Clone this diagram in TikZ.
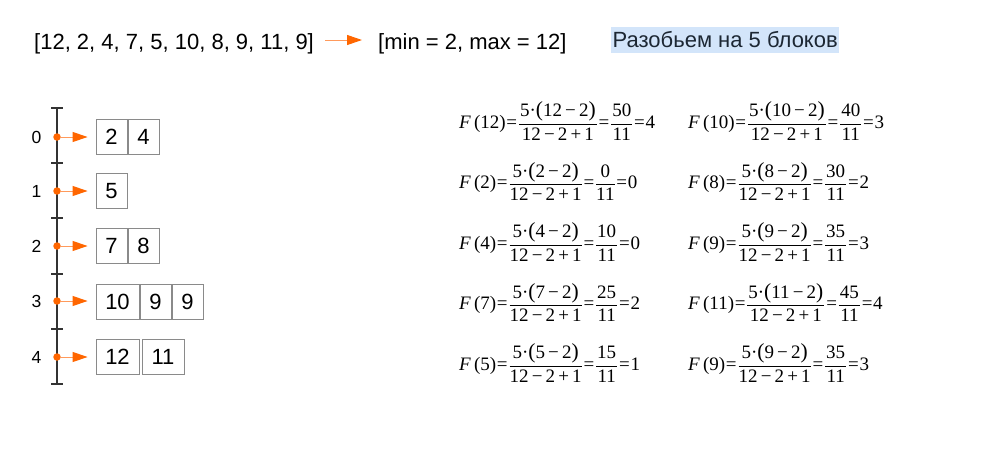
\documentclass[tikz,border=0pt]{standalone}
\usepackage{amsmath}
\usepackage{fontspec}
\setmainfont{Liberation Sans}
\newfontfamily\lserif{Liberation Serif}
\usetikzlibrary{arrows.meta}
\definecolor{org}{HTML}{FF6600}
\definecolor{orgl}{HTML}{FF9A5C}
\definecolor{hl}{HTML}{D3E5FA}
\definecolor{boxg}{HTML}{8A8A8A}
\definecolor{axis}{HTML}{333333}
\definecolor{navy}{HTML}{1C2733}
\newcommand{\bp}[1]{{\fontsize{21.5}{22}\selectfont#1}}
\newcommand{\eqs}{\hspace{0.7pt}=\hspace{0.7pt}}
\newcommand{\Fx}[3]{$\text{\textit{F}\,(#1)\eqs}{\dfrac{\text{\hspace{1pt}5·\bp{(}#1\,−\,2\bp{)}\hspace{1pt}}}{\text{12\,−\,2\,+\,1}}}\text{\eqs}{\dfrac{\text{\hspace{1pt}#2\hspace{1pt}}}{\text{11}}}\text{\eqs#3}$}
\begin{document}
\begin{tikzpicture}[x=1pt,y=-1pt,
 txt/.style={font=\fontsize{22}{26}\selectfont, inner sep=0pt, anchor=base west},
 cell/.style={draw=boxg, line width=0.9pt, minimum height=35pt, font=\fontsize{22}{26}\selectfont, inner sep=0pt},
 oarrow/.style={draw=orgl, line width=1pt, -{Triangle[length=15pt,width=10pt,color=org]}},
 dot/.style={circle, fill=org, inner sep=0pt, minimum size=7.5pt},
 lbl/.style={font=\fontsize{17.5}{20}\selectfont, inner sep=0pt},
 fml/.style={font=\lserif\fontsize{19}{22}\selectfont, anchor=west, inner sep=0pt},
 tick/.style={draw=axis, line width=1.2pt}]
\useasboundingbox (0,0) rectangle (991,464);

% top line
\node[txt] (list) at (34,49) {[12, 2, 4, 7, 5, 10, 8, 9, 11, 9]};
\node[txt] (mm) at (378,49) {[min = 2, max = 12]};
\draw[oarrow] ([xshift=11pt]list.east |- 0,40) -- ([xshift=-16pt]mm.west |- 0,40);
\node[fill=hl, text=navy, font=\fontsize{22}{26}\selectfont, inner xsep=1.5pt, inner ysep=0pt, minimum height=26pt, anchor=west] (blk) at (611,40) {Разобьем на 5 блоков};

% axis
\coordinate (atop) at (57,108);
\coordinate (abot) at (57,384);
\draw[tick] (atop) -- (abot);
\foreach \y in {108,163,218,274,329,384}
  \draw[tick] (51,\y) -- (63,\y);

% bucket labels and dots
\foreach \i/\y in {0/137,1/191,2/246,3/301,4/357}{
  \node[lbl] (l\i) at (36.5,\y) {\i};
  \node[dot] (d\i) at (57,\y) {};
}

% cells
\node[cell, minimum width=31pt] (c00) at (111.5,136.5) {2};
\node[cell, minimum width=31pt] (c01) at (143.5,136.5) {4};
\node[cell, minimum width=31pt] (c10) at (111.5,191) {5};
\node[cell, minimum width=31pt] (c20) at (111.5,246) {7};
\node[cell, minimum width=31pt] (c21) at (143.5,246) {8};
\node[cell, minimum width=43pt] (c30) at (117.5,302) {10};
\node[cell, minimum width=31pt] (c31) at (155.5,302) {9};
\node[cell, minimum width=31pt] (c32) at (187.5,302) {9};
\node[cell, minimum width=43pt] (c40) at (117.5,357) {12};
\node[cell, minimum width=42pt] (c41) at (163,357) {11};

\draw[oarrow] (d0) -- ([xshift=-8pt]c00.west |- d0);
\draw[oarrow] (d1) -- ([xshift=-8pt]c10.west |- d1);
\draw[oarrow] (d2) -- ([xshift=-8pt]c20.west |- d2);
\draw[oarrow] (d3) -- ([xshift=-8pt]c30.west |- d3);
\draw[oarrow] (d4) -- ([xshift=-8pt]c40.west |- d4);

% formulas
\node[fml] (f12) at (459,121) {\Fx{12}{50}{4}};
\node[fml] (f2)  at (459,181.5) {\Fx{2}{0}{0}};
\node[fml] (f4)  at (459,242) {\Fx{4}{10}{0}};
\node[fml] (f7)  at (459,302.5) {\Fx{7}{25}{2}};
\node[fml] (f5)  at (459,363) {\Fx{5}{15}{1}};
\node[fml] (f10) at (688,121) {\Fx{10}{40}{3}};
\node[fml] (f8)  at (688,181.5) {\Fx{8}{30}{2}};
\node[fml] (f9)  at (688,242) {\Fx{9}{35}{3}};
\node[fml] (f11) at (688,302.5) {\Fx{11}{45}{4}};
\node[fml] (f9b) at (688,363) {\Fx{9}{35}{3}};
\end{tikzpicture}
\end{document}
